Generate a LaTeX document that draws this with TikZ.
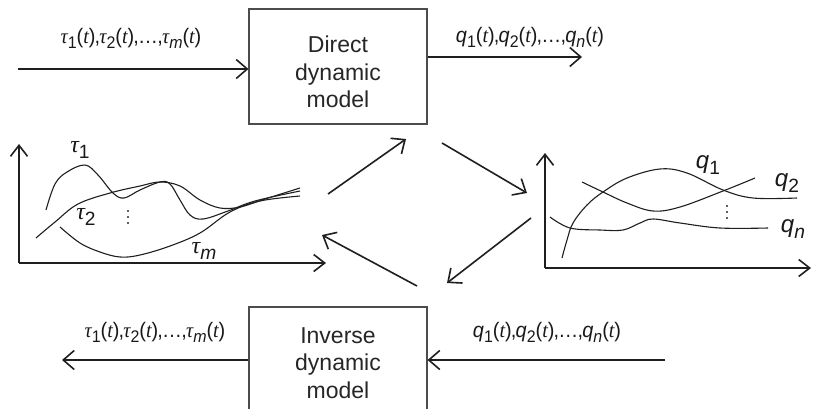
\documentclass[tikz,border=0pt]{standalone}
\usepackage{fontspec}
\setmainfont{Liberation Sans}
\newfontfamily\grk{Liberation Serif}
\usetikzlibrary{arrows.meta}
\newcommand{\tauv}{{\grk\itshape τ}}
\newcommand{\qv}{\textit{q}}
\newcommand{\tv}{({\grk\itshape t})}
\newcommand{\sbx}[1]{\raisebox{-0.25em}{\fontsize{0.8em}{1em}\selectfont #1}}
\newcommand{\cm}{\kern-0.04em,\kern-0.04em}
\newcommand{\tlist}{\scalebox{0.95}[1]{\tauv\sbx{1}\tv\cm\tauv\sbx{2}\tv\cm…\cm\tauv\sbx{\textit{m}}\tv}}
\newcommand{\qlist}{\scalebox{0.95}[1]{\qv\sbx{1}\tv\cm\qv\sbx{2}\tv\cm…\cm\qv\sbx{\textit{n}}\tv}}
\newcommand{\vdotsx}{\tikz[baseline]{\foreach \k in {0,1,2}{\fill (0,\k*6pt) circle (1.2pt);}}}
\begin{document}
\begin{tikzpicture}[x=1pt,y=-1pt,
  ink/.style={draw=black!88},
  arr/.style={ink,line width=1.6pt,-{Straight Barb[length=11pt,width=19pt,line width=1.6pt]}},
  axis/.style={ink,line width=1.6pt,-{Straight Barb[length=11pt,width=17pt,line width=1.6pt]}},
  curve/.style={ink,line width=1.1pt},
  modelbox/.style={draw=black!70,line width=1.1pt,minimum width=178pt,minimum height=115pt,inner sep=0pt},
  boxtext/.style={align=center,font=\fontsize{23}{27.5}\selectfont,text=black!85},
  lbl/.style={font=\fontsize{21}{24}\selectfont,text=black!90,inner sep=0pt,anchor=base},
  plbl/.style={font=\fontsize{24}{28}\selectfont,text=black!90,inner sep=0pt}
]
\clip (0,0) rectangle (813,408);
\useasboundingbox (0,0) rectangle (813,408);

% boxes
\node[modelbox] (direct) at (338,66.5) {};
\node[boxtext] (directtext) at (338,72) {Direct\\dynamic\\model};
\node[modelbox] (inverse) at (338,364.5) {};
\node[boxtext] (inversetext) at (338,363) {Inverse\\dynamic\\model};

% top arrows
\coordinate (tlin) at (18,69);
\draw[arr] (tlin) -- (direct.west |- tlin);
\node[lbl] (tl) at (131,43) {\tlist};
\coordinate (trout) at (582,57);
\draw[arr] (direct.east |- trout) -- (trout);
\node[lbl] (tr) at (530,42) {\qlist};

% bottom arrows
\coordinate (blout) at (62,360);
\draw[arr] (inverse.west |- blout) -- (blout);
\node[lbl] (bl) at (155,337) {\tlist};
\coordinate (brin) at (665,360);
\draw[arr] (brin) -- (inverse.east |- brin);
\node[lbl] (br) at (547,337) {\qlist};

% middle arrows
\coordinate (m1a) at (328,194); \coordinate (m1b) at (406,139);
\coordinate (m2a) at (442,143); \coordinate (m2b) at (527,193);
\coordinate (m3a) at (531,218); \coordinate (m3b) at (447,283);
\coordinate (m4a) at (417,286); \coordinate (m4b) at (322,235);
\draw[arr] (m1a) -- (m1b);
\draw[arr] (m2a) -- (m2b);
\draw[arr] (m3a) -- (m3b);
\draw[arr] (m4a) -- (m4b);

% left plot
\coordinate (lo) at (19,263);
\coordinate (ly) at (19,144);
\coordinate (lx) at (326,263);
\draw[axis] (lo) -- (ly);
\draw[axis] (lo) -- (lx);
\draw[curve] plot[smooth,tension=0.6] coordinates {(46,210) (55,184) (67,172) (85,165) (98,175) (113,193) (124,198) (140,190) (160,182) (170,184) (180,200) (190,215) (203,219) (228,211) (255,201) (300,191)};
\draw[curve] plot[smooth,tension=0.6] coordinates {(36,238) (55,222) (78,204) (110,193) (140,186) (160,182) (180,186) (200,200) (220,208) (240,207) (265,199) (300,188)};
\draw[curve] plot[smooth,tension=0.6] coordinates {(60,227) (80,243) (100,252) (120,257) (140,255) (170,246) (200,233) (230,212) (260,201) (300,196)};
\node[plbl] (t1) at (80,150) {\tauv\sbx{1}};
\node[plbl] (t2) at (86,217) {\tauv\sbx{2}};
\node[inner sep=0pt,text=black!85] (ld) at (128,217) {\vdotsx};
\node[plbl] (tm) at (204,251) {\tauv\sbx{\textit{m}}};

% right plot
\coordinate (ro) at (545,268);
\coordinate (ry) at (545,153);
\coordinate (rx) at (811,268);
\draw[axis] (ro) -- (ry);
\draw[axis] (ro) -- (rx);
\draw[curve] plot[smooth,tension=0.6] coordinates {(562,258) (567,240) (573,223) (587,205) (603,192) (627,178) (660,169) (687,173) (723,190) (753,198) (797,198)};
\draw[curve] plot[smooth,tension=0.6] coordinates {(582,182) (603,192) (627,203) (653,211) (680,207) (723,191) (755,178)};
\draw[curve] plot[smooth,tension=0.6] coordinates {(550,217) (570,228) (600,230) (623,230) (640,223) (653,219) (680,223) (720,228) (768,228)};
\node[plbl] (q1) at (708,165) {\qv\sbx{1}};
\node[plbl] (q2) at (787,183) {\qv\sbx{2}};
\node[plbl] (qn) at (793,229) {\qv\sbx{\textit{n}}};
\node[inner sep=0pt,text=black!85] (rd) at (727,212) {\vdotsx};
\end{tikzpicture}
\end{document}
